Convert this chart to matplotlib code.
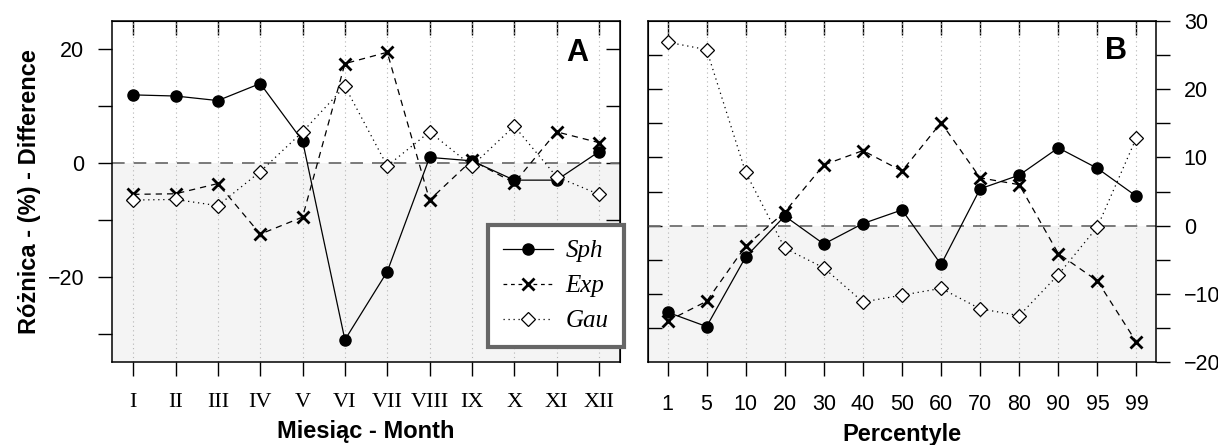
import numpy as np
import matplotlib
matplotlib.use('Agg')
import matplotlib.pyplot as plt
from matplotlib.lines import Line2D
from matplotlib.font_manager import FontProperties

# monthly differences (%)
months = ['I', 'II', 'III', 'IV', 'V', 'VI', 'VII', 'VIII', 'IX', 'X', 'XI', 'XII']
sph_month = [12.0, 11.8, 11.0, 14.0, 3.9, -31.1, -19.1, 1.0, 0.4, -3.0, -3.0, 2.0]
exp_month = [-5.5, -5.4, -3.6, -12.5, -9.5, 17.5, 19.5, -6.5, 0.5, -3.5, 5.5, 3.6]
gau_month = [-6.5, -6.4, -7.5, -1.5, 5.5, 13.5, -0.5, 5.5, -0.5, 6.5, -2.4, -5.5]

# differences by percentile (%)
pcts = ['1', '5', '10', '20', '30', '40', '50', '60', '70', '80', '90', '95', '99']
sph_pct = [-12.7, -14.8, -4.6, 1.4, -2.7, 0.3, 2.3, -5.7, 5.4, 7.4, 11.4, 8.4, 4.3]
exp_pct = [-14.0, -11.1, -3.0, 2.0, 8.9, 11.0, 8.0, 15.1, 7.0, 6.0, -4.1, -8.1, -17.1]
gau_pct = [26.9, 25.8, 7.8, -3.3, -6.2, -11.2, -10.2, -9.2, -12.2, -13.2, -7.2, -0.2, 12.9]

SANS = 'Liberation Sans'
SERIF = 'Liberation Serif'
plt.rcParams['font.family'] = SANS

fig = plt.figure(figsize=(12.18, 4.45), dpi=100)
axA = fig.add_axes([0.092, 0.1865, 0.4171, 0.7663])
axB = fig.add_axes([0.532, 0.1865, 0.4171, 0.7663])

TL = 10
TICK_FS = 15.5
LAB_FS = 17


def draw_series(ax, labels, sph, exp, gau, ylim):
    x = np.arange(1, len(labels) + 1)
    ax.set_xlim(0.5, len(labels) + 0.5)
    ax.set_ylim(*ylim)
    ax.axhspan(ylim[0], 0, color='#f4f4f4', lw=0, zorder=0)
    for xi in x:
        ax.axvline(xi, color='#b5b5b5', lw=0.8, ls=(0, (1, 3)), zorder=1)
    ax.axhline(0, color='#707070', lw=1.3, ls=(0, (7, 5)), zorder=1)
    ax.plot(x, sph, color='k', lw=0.9, marker='o', ms=8, zorder=3)
    ax.plot(x, exp, color='k', lw=0.9, ls=(0, (5, 4)), marker='x', ms=9, mew=2, zorder=3)
    ax.plot(x, gau, color='k', lw=0.9, ls=(0, (1, 3)), marker='D', ms=7,
            mfc='white', mec='k', mew=0.9, zorder=4)
    ax.set_xticks(x)
    for sp in ax.spines.values():
        sp.set_linewidth(1.1)
    top = ax.secondary_xaxis('top')
    top.set_xticks(x)
    top.tick_params(direction='in', length=TL, width=1, labeltop=False)
    return x


# panel A
draw_series(axA, months, sph_month, exp_month, gau_month, (-35, 25))
axA.set_xticklabels(months, fontfamily=SERIF, fontsize=16)
axA.tick_params(axis='x', direction='out', length=TL, width=1, pad=12)
axA.set_yticks([-20, 0, 20])
axA.set_yticks([-30, -10, 10], minor=True)
axA.tick_params(axis='y', which='both', direction='out', length=TL, width=1,
                labelsize=TICK_FS, pad=10)
rightA = axA.secondary_yaxis('right')
rightA.set_yticks([-30, -20, -10, 0, 10, 20])
rightA.tick_params(direction='in', length=TL, width=1, labelright=False)
axA.set_xlabel('Miesiąc - Month', fontweight='bold', fontsize=LAB_FS, labelpad=6)
axA.set_ylabel('Różnica - (%) - Difference', fontweight='bold', fontsize=LAB_FS, labelpad=5)
axA.text(0.915, 0.905, 'A', transform=axA.transAxes, ha='center', va='center',
         fontsize=22, fontweight='bold')

# panel B
draw_series(axB, pcts, sph_pct, exp_pct, gau_pct, (-20, 30))
axB.set_xticklabels(pcts, fontsize=TICK_FS)
axB.tick_params(axis='x', direction='out', length=TL, width=1, pad=13)
axB.yaxis.tick_right()
axB.set_yticks([-20, -10, 0, 10, 20, 30])
axB.set_yticks([-15, -5, 5, 15, 25], minor=True)
axB.tick_params(axis='y', which='both', direction='out', length=TL, width=1,
                labelsize=TICK_FS, pad=10)
leftB = axB.secondary_yaxis('left')
leftB.set_yticks([-15, -10, -5, 0, 5, 10, 15, 20, 25])
leftB.tick_params(direction='in', length=TL, width=1, labelleft=False)
axB.set_xlabel('Percentyle', fontweight='bold', fontsize=LAB_FS, labelpad=6)
axB.text(0.921, 0.912, 'B', transform=axB.transAxes, ha='center', va='center',
         fontsize=22, fontweight='bold')

handles = [
    Line2D([], [], color='k', lw=0.9, marker='o', ms=8),
    Line2D([], [], color='k', lw=0.9, ls=(0, (3, 3)), marker='x', ms=9, mew=2),
    Line2D([], [], color='k', lw=0.9, ls=(0, (1, 3)), marker='D', ms=7, mfc='white', mew=0.9),
]
leg = axA.legend(handles, ['Sph', 'Exp', 'Gau'], loc='upper left',
                 bbox_to_anchor=(0.4007, 0.4944), bbox_transform=fig.transFigure,
                 fancybox=False, edgecolor='#666666', framealpha=1, numpoints=1,
                 prop=FontProperties(family=SERIF, style='italic', size=18),
                 handlelength=2.0, borderpad=0.6, labelspacing=0.5, handletextpad=0.5,
                 borderaxespad=0)
leg.get_frame().set_linewidth(3)
leg.set_zorder(10)

fig.savefig('out.png', dpi=100)
